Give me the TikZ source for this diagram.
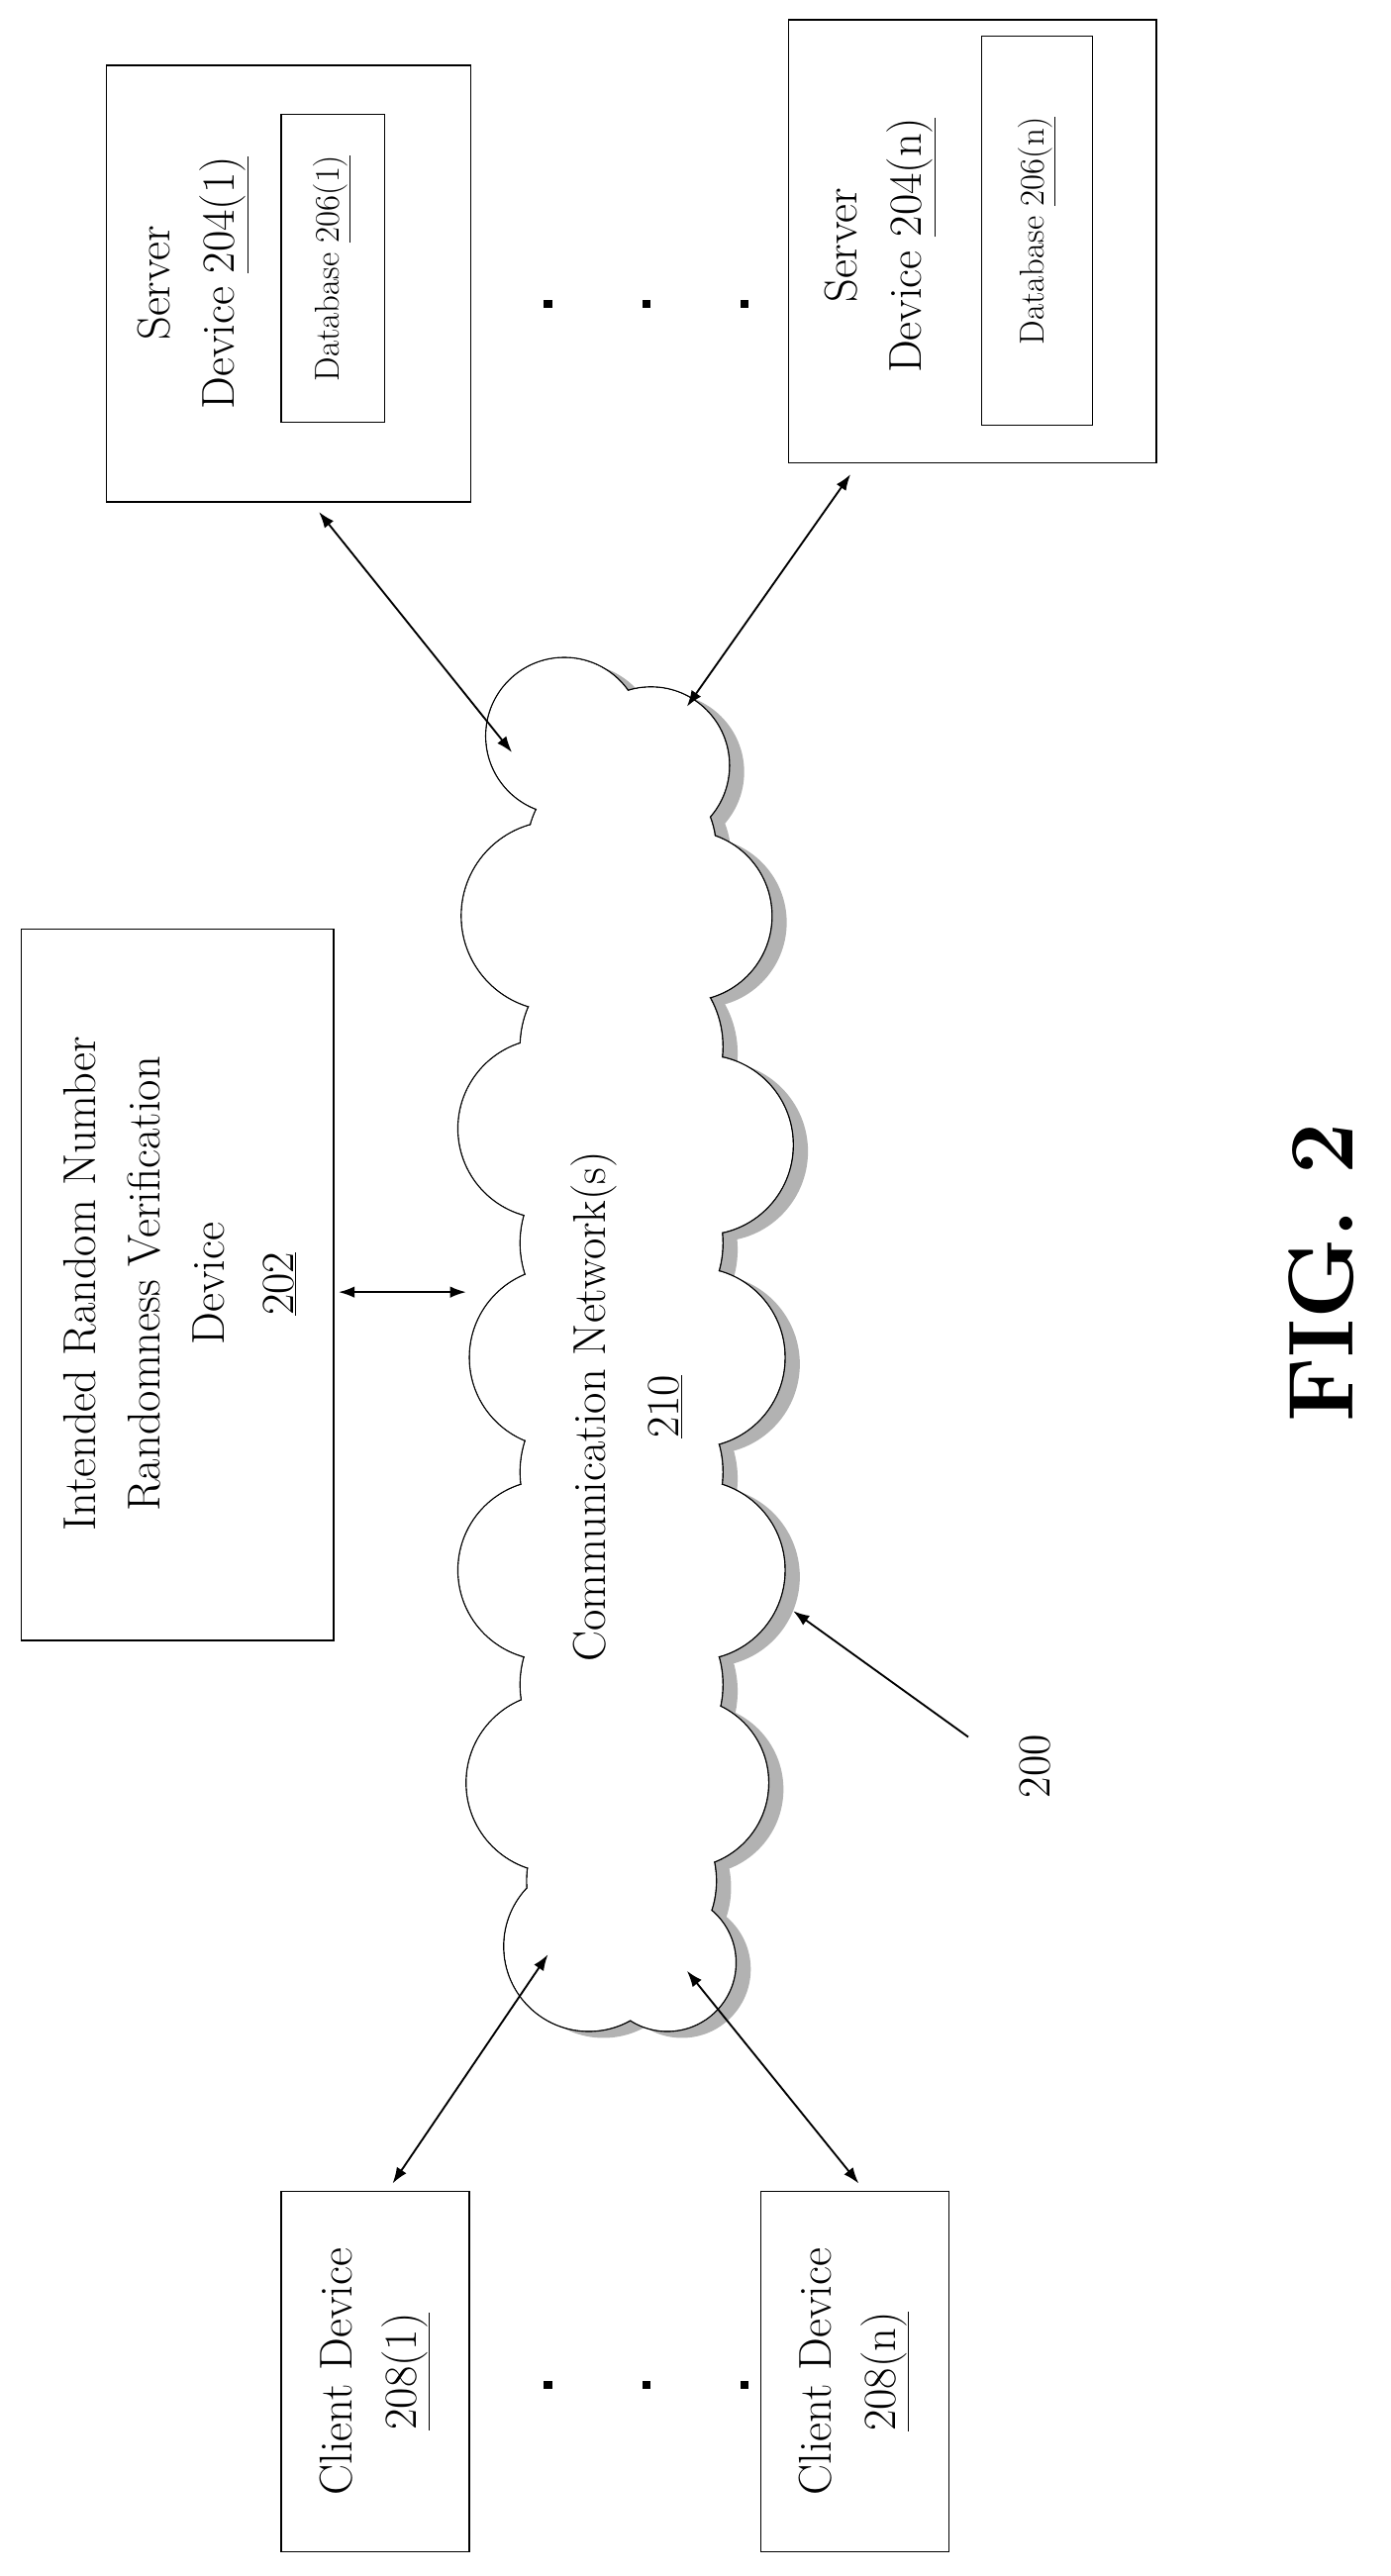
\documentclass[tikz,border=0pt]{standalone}
\usepackage{tikz}
\usetikzlibrary{positioning, arrows.meta}
\tikzset{
  box/.style={draw, line width=1.2pt, inner sep=0pt},
  lbl/.style={rotate=90, align=center, font=\fontsize{40}{56}\selectfont},
  dblarrow/.style={line width=1.6pt, {Latex[length=14pt,width=10pt]}-{Latex[length=14pt,width=10pt]}},
  dot/.style={fill, minimum size=7pt, inner sep=0pt}
}
\newcommand{\puffs}{345/450/48,398/468/48,340/560/58,420/560/52,335/690/55,430/700/55,342/830/55,425/830/55,335/960/55,425/960/55,340/1090/55,418/1090/52,360/1190/52,408/1200/42,380/640/62,380/900/62,380/1030/62,380/760/62,380/520/58,380/1150/58}
\begin{document}
\begin{tikzpicture}[x=0.05cm, y=-0.05cm]
		\useasboundingbox (0,0) rectangle (850,1575);
		% cloud with shadow
		\foreach \cx/\cy/\r in \puffs {
			\fill[gray!60] (\cx+9,\cy+4) circle[radius=\r*0.05cm];
		}
		\foreach \cx/\cy/\r in \puffs {
			\draw[line width=1.2pt] (\cx,\cy) circle[radius=\r*0.05cm];
		}
		\foreach \cx/\cy/\r in \puffs {
			\fill[white] (\cx,\cy) circle[radius=\r*0.05cm-0.6pt];
		}
		\node[lbl] (net) at (383,860) {Communication Network(s)\\[8pt] \underline{210}};
		
		% servers
		\draw[box] (65,40) rectangle (288,307);
		\node (srvA) at (176,173) {};
		\node[lbl] at (118,173) {Server\\Device \underline{204(1)}};
		\draw[box] (172,70) rectangle (235,258);
		\node[lbl, font=\fontsize{30}{40}\selectfont] (dbA) at (203,164) {Database \underline{206(1)}};
		
		\draw[box] (482,12) rectangle (707,283);
		\node (srvN) at (594,147) {};
		\node[lbl] at (538,150) {Server\\Device \underline{204(n)}};
		\draw[box] (600,22) rectangle (668,260);
		\node[lbl, font=\fontsize{30}{40}\selectfont] (dbN) at (634,141) {Database \underline{206(n)}};
		
		\foreach \x in {335,395,455} {
			\node[dot] at (\x,186) {};
			\node[dot] at (\x,1458) {};
		}
		
		% verification device
		\draw[box] (13,568) rectangle (204,1003);
		\node[lbl] (ver) at (110,785) {Intended Random Number\\Randomness Verification\\Device\\[4pt] \underline{202}};
		
		% clients
		\draw[box] (172,1340) rectangle (287,1560);
		\node[lbl] (cliA) at (229,1450) {Client Device\\\underline{208(1)}};
		\draw[box] (465,1340) rectangle (580,1560);
		\node[lbl] (cliN) at (522,1450) {Client Device\\\underline{208(n)}};
		
		% connector ends
		\coordinate (sA) at (195,313);
		\coordinate (cA) at (313,460);
		\coordinate (sN) at (520,290);
		\coordinate (cN) at (420,432);
		\coordinate (vR) at (207,790);
		\coordinate (cV) at (285,790);
		\coordinate (kA) at (240,1335);
		\coordinate (cK) at (335,1195);
		\coordinate (kN) at (525,1335);
		\coordinate (cL) at (420,1205);
		\draw[dblarrow] (sA) -- (cA);
		\draw[dblarrow] (sN) -- (cN);
		\draw[dblarrow] (vR) -- (cV);
		\draw[dblarrow] (kA) -- (cK);
		\draw[dblarrow] (kN) -- (cL);
		
		\node[lbl] (ref) at (633,1080) {200};
		\coordinate (refS) at (592,1062);
		\coordinate (refE) at (485,985);
		\draw[line width=1.6pt, -{Latex[length=14pt,width=10pt]}] (refS) -- (refE);
		
		\node[rotate=90, font=\fontsize{80}{90}\selectfont\bfseries] (fig) at (808,778) {FIG. 2};
	\end{tikzpicture}
\end{document}
